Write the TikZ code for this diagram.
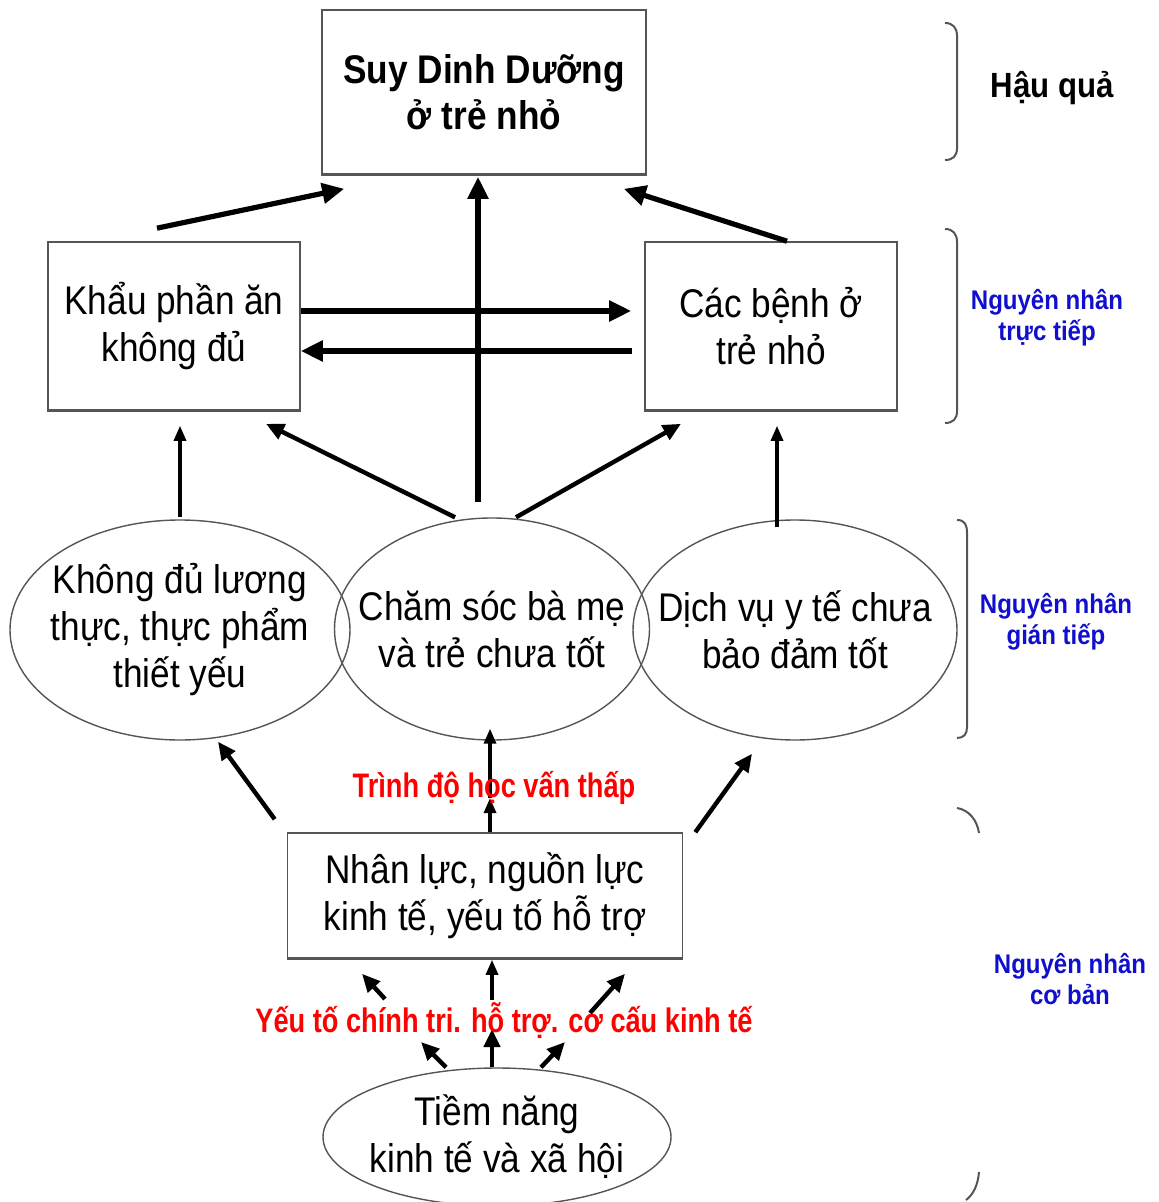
\documentclass[tikz,border=0pt]{standalone}
\usepackage{fontspec}
\setmainfont{Liberation Sans}[FakeStretch=0.88]
\newfontfamily\lblfont{Liberation Sans}[FakeStretch=0.8]
\newfontfamily\sidefont{Liberation Sans}[FakeStretch=0.89]
\usetikzlibrary{shapes.geometric,arrows.meta,calc}
\definecolor{lblblue}{RGB}{15,15,205}
\definecolor{lblred}{RGB}{255,0,0}
\definecolor{edgegray}{RGB}{85,85,85}
\begin{document}
\begin{tikzpicture}[x=0.5pt,y=-0.5pt,
  boxnode/.style={draw=edgegray, line width=0.8pt, rectangle, inner sep=0pt, align=center, font=\fontsize{20}{23.5}\selectfont},
  ellnode/.style={draw=edgegray, line width=0.7pt, ellipse, inner sep=0pt},
  elltext/.style={align=center, inner sep=0pt, font=\fontsize{20}{23.5}\selectfont},
  bigarrow/.style={line width=2.6pt, -{Triangle[length=11pt,width=10pt]}},
  midarrow/.style={line width=2.2pt, -{Triangle[length=9pt,width=8pt]}},
  thinarrow/.style={line width=1.6pt, -{Triangle[length=7.5pt,width=6pt]}},
  redlbl/.style={text=lblred, font=\lblfont\bfseries\fontsize{17}{20}\selectfont, inner sep=0pt},
  bluelbl/.style={text=lblblue, align=center, font=\sidefont\bfseries\fontsize{13.5}{15.5}\selectfont, inner sep=0pt},
  bracket/.style={draw=edgegray, line width=1pt},
  baseedge/.style={draw=edgegray, line width=1.6pt}
]
\useasboundingbox (0,0) rectangle (1158,1202);

% nodes
\node[boxnode, minimum width=162pt, minimum height=82pt, font=\bfseries\fontsize{20}{23}\selectfont] (sdd) at (484,92) {Suy Dinh Dưỡng\\ở trẻ nhỏ};
\node[boxnode, minimum width=126pt, minimum height=84pt] (kp) at (174,326) {Khẩu phần ăn\\không đủ};
\node[boxnode, minimum width=126pt, minimum height=84pt] (cb) at (771,326) {Các bệnh ở\\trẻ nhỏ};
\node[ellnode, minimum width=170pt, minimum height=110pt,
      label={[elltext]center:Không đủ lương\\thực, thực phẩm\\thiết yếu}] (e1) at (180,630) {};
\node[ellnode, minimum width=157.5pt, minimum height=111pt,
      label={[elltext]center:Chăm sóc bà mẹ\\và trẻ chưa tốt}] (e2) at (492,629) {};
\node[ellnode, minimum width=162pt, minimum height=110pt,
      label={[elltext]center:Dịch vụ y tế chưa\\bảo đảm tốt}] (e3) at (795,630) {};
\node[boxnode, minimum width=197.5pt, minimum height=62.5pt] (nl) at (485,895.5) {Nhân lực, nguồn lực\\kinh tế, yếu tố hỗ trợ};
\node[ellnode, minimum width=174pt, minimum height=69pt,
      label={[elltext]center:Tiềm năng\\kinh tế và xã hội}] (tn) at (497,1137) {};

% heavier bottom edges of boxes
\draw[baseedge] (sdd.south west) -- (sdd.south east);
\draw[baseedge] (kp.south west) -- (kp.south east);
\draw[baseedge] (cb.south west) -- (cb.south east);
\draw[baseedge] (nl.south west) -- (nl.south east);

% top level arrows
\draw[bigarrow] ($(kp.north)+(-17,-13)$) -- ($(sdd.south west)+(23,14)$);
\draw[bigarrow] ($(e2.north)+(-14,-15)$) -- ($(sdd.south)+(-6,2)$);
\draw[bigarrow] ($(cb.north)+(16,0)$) -- ($(sdd.south east)+(-23,14)$);
\draw[bigarrow] ($(kp.east)+(0,-15)$) -- ($(cb.west)+(-13,-15)$);
\draw[bigarrow] ($(cb.west)+(-12,25)$) -- ($(kp.east)+(0,25)$);

% middle level arrows
\draw[thinarrow] ($(e1.north)+(0,-2)$) -- ($(kp.south)+(6,15)$);
\draw[midarrow] ($(e2.north)+(-37,0)$) -- ($(kp.south)+(92,13)$);
\draw[midarrow] ($(e2.north)+(24,0)$) -- ($(cb.south)+(-90,13)$);
\draw[thinarrow] ($(e3.north)+(-18,8)$) -- ($(cb.south)+(6,15)$);

% lower arrows
\coordinate (m1) at (490,798);
\draw[midarrow] ($(nl.north west)+(-12,-13)$) -- ($(e1.south)+(38,1)$);
\draw[thinarrow] ($(nl.north)+(5,0)$) -- (m1);
\draw[thinarrow] (m1) -- ($(e2.south)+(-2,-12)$);
\draw[midarrow] ($(nl.north east)+(12,0)$) -- ($(e3.south)+(-43,13)$);

\coordinate (lA) at (421,1042);
\coordinate (lB) at (385,999);
\coordinate (cA) at (492,1029);
\coordinate (cB) at (492,1000);
\coordinate (rA) at (565,1042);
\coordinate (rB) at (590,1013);
\draw[midarrow] ($(tn.north)+(-51,0)$) -- (lA);
\draw[midarrow] ($(tn.north)+(-5,0)$) -- (cA);
\draw[midarrow] ($(tn.north)+(44,0)$) -- (rA);
\draw[midarrow] (lB) -- ($(nl.south)+(-123,15)$);
\draw[thinarrow] (cB) -- ($(nl.south)+(7,1)$);
\draw[midarrow] (rB) -- ($(nl.south)+(140,15)$);

% red labels
\node[redlbl, anchor=base] (lbl1) at (494,797) {Trình độ học vấn thấp};
\node[redlbl, anchor=base] (lbl2) at (504,1032) {Yếu tố chính tri. hỗ trợ. cơ cấu kinh tế};

% side labels
\node[inner sep=0pt, font=\sidefont\bfseries\fontsize{17.5}{20}\selectfont] (hq) at (1052,88) {Hậu quả};
\node[bluelbl] (nn1) at (1047,318) {Nguyên nhân\\trực tiếp};
\node[bluelbl] (nn2) at (1056,622) {Nguyên nhân\\gián tiếp};
\node[bluelbl] (nn3) at (1070,979) {Nguyên nhân\\cơ bản};

% brackets
\draw[bracket] (945,23) .. controls (953,23) and (957,28) .. (957,36) -- (957,148) .. controls (957,156) and (953,160) .. (945,160);
\draw[bracket] (945,229) .. controls (953,229) and (957,234) .. (957,242) -- (957,411) .. controls (957,419) and (953,423) .. (945,423);
\draw[bracket] (957,520) .. controls (965,520) and (967,525) .. (967,533) -- (967,727) .. controls (967,734) and (964,738) .. (957,738);
\draw[bracket] (957,808) .. controls (969,810) and (977,820) .. (979,833);
\draw[bracket] (979,1172) .. controls (978,1185) and (973,1195) .. (966,1200);
\end{tikzpicture}
\end{document}
